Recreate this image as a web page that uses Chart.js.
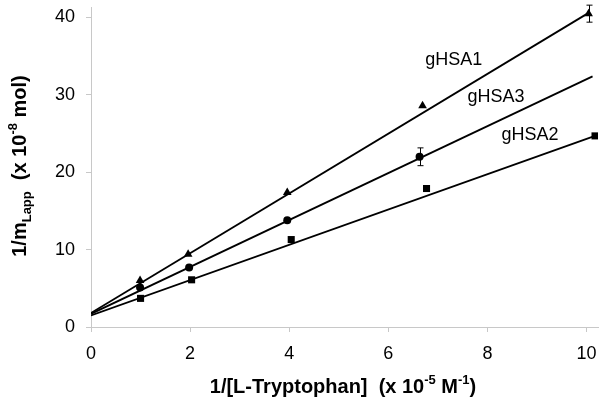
<!DOCTYPE html>
<html>
<head>
<meta charset="utf-8">
<script src="https://cdn.jsdelivr.net/npm/chart.js@4.4.0/dist/chart.umd.min.js"></script>
<style>
html,body{margin:0;padding:0;background:#fff;}
#wrap{width:603px;height:405px;position:relative;}
</style>
</head>
<body>
<div id="wrap"><canvas id="c" width="603" height="405"></canvas></div>
<script>
// ---- data ----
const seriesNames = ["gHSA1", "gHSA3", "gHSA2"];
const xHSA1 = [0.99, 1.96, 3.96, 6.69, 10.04];
const yHSA1 = [6.0, 9.4, 17.4, 28.6, 40.5];
const errHSA1 = [0, 0, 0, 0, 1.1];
const xHSA3 = [0.99, 1.98, 3.96, 6.63];
const yHSA3 = [5.1, 7.7, 13.8, 22.0];
const errHSA3 = [0, 0, 0, 1.15];
const xHSA2 = [1.0, 2.03, 4.04, 6.77, 10.17];
const yHSA2 = [3.7, 6.1, 11.3, 17.9, 24.7];
// trend lines (start / end)
const trendX1 = [0, 10.04], trendY1 = [1.8, 40.6];
const trendX3 = [0, 10.12], trendY3 = [1.7, 32.4];
const trendX2 = [0, 10.17], trendY2 = [1.5, 24.7];
// label anchor positions (data units)
const labelX = [7.32, 8.17, 8.86];
const labelY = [34.5, 29.7, 24.8];
const xTicks = [0, 2, 4, 6, 8, 10];
const yTicks = [0, 10, 20, 30, 40];

const pts = (xs, ys) => xs.map((x, i) => ({x: x, y: ys[i]}));
const FONT = "'Liberation Sans', Arial, sans-serif";

const errorBars = {
  id: 'errorBars',
  afterDatasetsDraw(chart) {
    const ctx = chart.ctx, xs = chart.scales.x, ys = chart.scales.y;
    const sets = [[xHSA1, yHSA1, errHSA1], [xHSA3, yHSA3, errHSA3]];
    ctx.save();
    ctx.strokeStyle = '#000'; ctx.lineWidth = 1;
    sets.forEach(([xa, ya, ea]) => {
      xa.forEach((x, i) => {
        if (!ea[i]) return;
        const px = Math.round(xs.getPixelForValue(x)) + 0.5;
        const top = ys.getPixelForValue(ya[i] + ea[i]);
        const bot = ys.getPixelForValue(ya[i] - ea[i]);
        ctx.beginPath();
        ctx.moveTo(px, top); ctx.lineTo(px, bot);
        ctx.moveTo(px - 3, top); ctx.lineTo(px + 3, top);
        ctx.moveTo(px - 3, bot); ctx.lineTo(px + 3, bot);
        ctx.stroke();
      });
    });
    // series labels
    ctx.fillStyle = '#000';
    ctx.font = '18px ' + FONT;
    ctx.textAlign = 'center'; ctx.textBaseline = 'middle';
    seriesNames.forEach((n, i) => {
      ctx.fillText(n, xs.getPixelForValue(labelX[i]), ys.getPixelForValue(labelY[i]));
    });
    ctx.restore();
  }
};

function drawRuns(ctx, runs, x, y) {
  // runs: [text, fontSize, baselineShift]
  let total = 0;
  runs.forEach(r => { ctx.font = 'bold ' + r[1] + 'px ' + FONT; total += ctx.measureText(r[0]).width; });
  let cx = x - total / 2;
  runs.forEach(r => {
    ctx.font = 'bold ' + r[1] + 'px ' + FONT;
    ctx.fillText(r[0], cx, y + r[2]);
    cx += ctx.measureText(r[0]).width;
  });
}

const axisTitles = {
  id: 'axisTitles',
  afterDraw(chart) {
    const ctx = chart.ctx;
    ctx.save();
    ctx.fillStyle = '#000';
    ctx.textAlign = 'left'; ctx.textBaseline = 'alphabetic';
    drawRuns(ctx, [
      ['1/[L-Tryptophan]  (x 10', 20, 0],
      ['-5', 13, -9],
      [' M', 20, 0],
      ['-1', 13, -9],
      [')', 20, 0]
    ], 343, 393);
    ctx.translate(26, 166);
    ctx.rotate(-Math.PI / 2);
    drawRuns(ctx, [
      ['1/m', 20, 0],
      ['Lapp', 13, 5],
      ['  (x 10', 20, 0],
      ['-8', 13, -9],
      [' mol)', 20, 0]
    ], 0, 0);
    ctx.restore();
  }
};

const lineDs = (xs, ys) => ({
  type: 'line', data: pts(xs, ys), borderColor: '#000', borderWidth: 1.8,
  pointRadius: 0, fill: false, showLine: true, order: 2
});
const markDs = (label, xs, ys, style, r) => ({
  type: 'scatter', label: label, data: pts(xs, ys), pointStyle: style, pointRadius: r,
  backgroundColor: '#000', borderColor: '#000', borderWidth: 0, showLine: false, order: 1
});

new Chart(document.getElementById('c'), {
  data: {
    datasets: [
      lineDs(trendX1, trendY1), lineDs(trendX3, trendY3), lineDs(trendX2, trendY2),
      markDs('gHSA1', xHSA1, yHSA1, 'triangle', 5),
      markDs('gHSA3', xHSA3, yHSA3, 'circle', 4),
      markDs('gHSA2', xHSA2, yHSA2, 'rect', 5)
    ]
  },
  options: {
    responsive: false, animation: false,
    devicePixelRatio: 1,
    layout: {padding: {left: 0, right: 5, top: 7, bottom: 0}},
    plugins: {legend: {display: false}, tooltip: {enabled: false}},
    scales: {
      x: {
        type: 'linear', min: 0, max: 10.23,
        afterBuildTicks: s => { s.ticks = xTicks.map(v => ({value: v})); },
        afterFit: s => { s.height = 78; s.paddingLeft = 0; s.paddingRight = 0; },
        border: {display: true, color: '#c8c8c8', width: 1},
        grid: {drawOnChartArea: false, drawTicks: true, tickLength: 5, color: '#c8c8c8'},
        ticks: {font: {size: 18, family: FONT}, color: '#000', padding: 11, maxRotation: 0}
      },
      y: {
        type: 'linear', min: 0, max: 41.36,
        afterBuildTicks: s => { s.ticks = yTicks.map(v => ({value: v})); },
        afterFit: s => { s.width = 91; s.paddingTop = 0; s.paddingBottom = 0; },
        border: {display: true, color: '#c8c8c8', width: 1},
        grid: {drawOnChartArea: false, drawTicks: true, tickLength: 5, color: '#c8c8c8'},
        ticks: {font: {size: 18, family: FONT}, color: '#000', padding: 11}
      }
    }
  },
  plugins: [errorBars, axisTitles]
});
</script>
</body>
</html>
